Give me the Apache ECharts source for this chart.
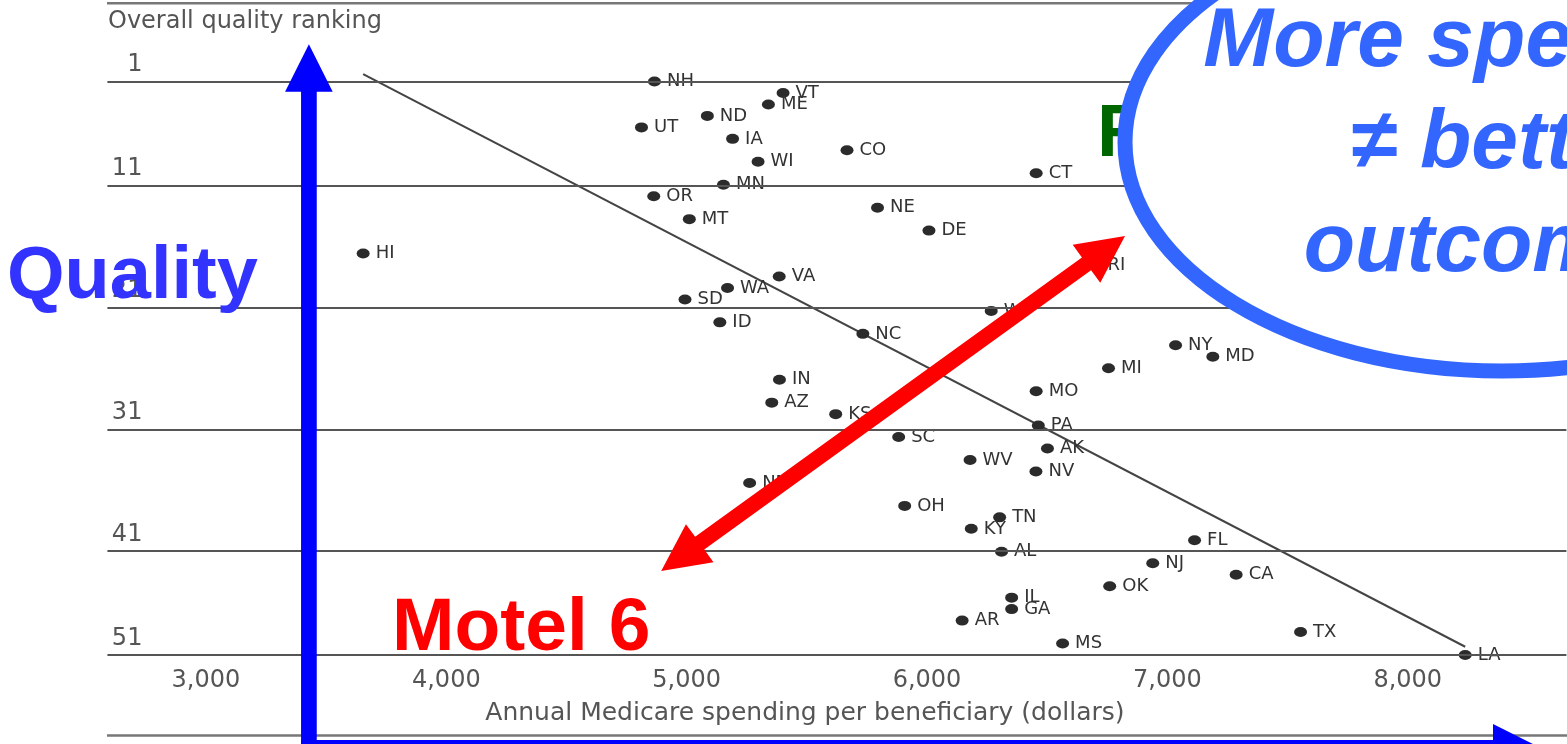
<!DOCTYPE html>
<html>
<head>
<meta charset="utf-8">
<script src="https://cdn.jsdelivr.net/npm/echarts@6/dist/echarts.min.js"></script>
<style>
html,body{margin:0;padding:0;background:#fff;}
#chart{width:1567px;height:744px;}
</style>
</head>
<body>
<div id="chart"></div>
<script>
// ---- data ----
const states = ['NH','VT','ME','ND','UT','IA','CO','WI','CT','MN','OR','NE','MT','DE','HI','RI','VA','WA','SD','WY','ID','NC','NY','MD','MI','IN','MO','AZ','KS','PA','SC','AK','WV','NV','NM','OH','TN','KY','FL','AL','NJ','CA','OK','IL','GA','AR','TX','MS','LA'];
const spending = [4866,5401,5340,5086,4812,5191,5667,5297,6454,5153,4863,5794,5011,6008,3654,6699,5385,5170,4993,6267,5138,5733,7034,7189,6755,5386,6454,5354,5620,6463,5882,6501,6179,6453,5262,5907,6302,6184,7113,6310,6939,7286,6760,6352,6352,6146,7554,6564,8239];
const ranks = [1,2,3,4,5,6,7,8,9,10,11,12,13,14,16,17,18,19,20,21,22,23,24,25,26,27,28,29,30,31,32,33,34,35,36,38,39,40,41,42,43,44,45,46,47,48,49,50,51];
const trendSpending = [3654, 8239];
const trendRank = [0.35, 50.28];
const xTickValues = [3000, 4000, 5000, 6000, 7000, 8000];
const yTickLabels = ['1', '11', '21', '31', '41', '51'];
const yGridRanks = [1, 10.08, 20.69, 31.32, 41.93, 51];
const yTitle = 'Overall quality ranking';
const xTitle = 'Annual Medicare spending per beneficiary (dollars)';

// ---- helpers for annotation arrows (pixel annotations, not data) ----
function arrowPoly(tail, tip, shaftW, headL, headW, both) {
  const dx = tip[0] - tail[0], dy = tip[1] - tail[1];
  const len = Math.sqrt(dx * dx + dy * dy);
  const u = [dx / len, dy / len], n = [-u[1], u[0]];
  const w = shaftW / 2, h = headW / 2;
  const pt = (b, s) => [b[0] + n[0] * s, b[1] + n[1] * s];
  const tipBase = [tip[0] - u[0] * headL, tip[1] - u[1] * headL];
  const tailBase = both ? [tail[0] + u[0] * headL, tail[1] + u[1] * headL] : tail;
  const pts = [];
  if (both) pts.push(tail, pt(tailBase, h));
  pts.push(pt(tailBase, w), pt(tipBase, w), pt(tipBase, h), tip, pt(tipBase, -h), pt(tipBase, -w), pt(tailBase, -w));
  if (both) pts.push(pt(tailBase, -h));
  return pts;
}

const chart = echarts.init(document.getElementById('chart'), null, {renderer: 'canvas'});
const FONT = 'DejaVu Sans';

const option = {
  animation: false,
  backgroundColor: '#ffffff',
  title: {
    text: yTitle, left: 108, top: 10, padding: 0,
    textStyle: {fontFamily: FONT, fontSize: 24, fontWeight: 'normal', color: '#555'}
  },
  grid: {left: 107.4, right: 0, top: 81.5, bottom: 89, containLabel: false},
  xAxis: {
    type: 'value', min: 2590, max: 8660, interval: 10,
    axisLine: {show: false}, axisTick: {show: false}, splitLine: {show: false},
    axisLabel: {
      margin: 14, fontFamily: FONT, fontSize: 24, color: '#555',
      showMinLabel: false, showMaxLabel: false,
      formatter: v => xTickValues.includes(Math.round(v)) ? Math.round(v).toLocaleString('en-US') : ''
    },
    name: xTitle, nameLocation: 'middle', nameGap: 46,
    nameTextStyle: {fontFamily: FONT, fontSize: 25, color: '#555', padding: [0, 64, 0, 0]}
  },
  yAxis: {
    type: 'value', min: 1, max: 51, inverse: true,
    axisLine: {show: false}, axisTick: {show: false}, axisLabel: {show: false}, splitLine: {show: false}
  },
  series: [
    {
      type: 'line', z: 2, clip: false, silent: true,
      data: trendSpending.map((x, i) => [x, trendRank[i]]),
      symbol: 'none', lineStyle: {color: '#444', width: 2}
    },
    {
      type: 'scatter', z: 3, clip: false, silent: true,
      data: states.map((s, i) => ({name: s, value: [spending[i], ranks[i]]})),
      symbol: 'circle', symbolSize: [13, 10],
      itemStyle: {color: '#2b2b2b', opacity: 1},
      label: {show: true, position: 'right', distance: 6, formatter: '{b}', fontFamily: FONT, fontSize: 18, color: '#333'},
      markLine: {
        silent: true, symbol: 'none', animation: false,
        lineStyle: {color: '#555', width: 2, type: 'solid'},
        label: {
          show: true, position: 'insideStartTop', formatter: '{b}',
          align: 'right', verticalAlign: 'middle', distance: [35, 16.5],
          fontFamily: FONT, fontSize: 24, color: '#555'
        },
        data: yGridRanks.map((r, i) => ({yAxis: r, name: yTickLabels[i]}))
      }
    }
  ],
  graphic: {
    elements: [
      {type: 'line', z: 50, shape: {x1: 107, y1: 3.3, x2: 1567, y2: 3.3}, style: {stroke: '#777', lineWidth: 2.5}},
      {type: 'line', z: 50, shape: {x1: 107, y1: 735.5, x2: 1567, y2: 735.5}, style: {stroke: '#777', lineWidth: 2.5}},
      {type: 'polygon', z: 100, shape: {points: arrowPoly([661.2, 571], [1125, 236], 15.6, 47.5, 47, true)}, style: {fill: '#ff0000'}},
      {type: 'text', z: 100, x: 7, y: 278,
        style: {text: 'Quality', fill: '#3333ff', font: 'bold 74px "Liberation Sans"', align: 'left', textAlign: 'left', verticalAlign: 'middle', textVerticalAlign: 'middle'}},
      {type: 'text', z: 100, x: 392, y: 629,
        style: {text: 'Motel 6', fill: '#ff0000', font: 'bold 75px "Liberation Sans"', align: 'left', textAlign: 'left', verticalAlign: 'middle', textVerticalAlign: 'middle'}},
      {type: 'text', z: 100, x: 1097, y: 135.7,
        style: {text: 'Ritz', fill: '#006600', font: 'bold 75px "Liberation Sans"', align: 'left', textAlign: 'left', verticalAlign: 'middle', textVerticalAlign: 'middle'}},
      {type: 'ellipse', z: 101, shape: {cx: 1502, cy: 142, rx: 377, ry: 229}, style: {fill: '#ffffff', stroke: '#3366ff', lineWidth: 15}},
      {type: 'text', z: 102, x: 1502, y: 145,
        style: {text: 'More spending\n≠ better\noutcomes', fill: '#3366ff', font: 'italic bold 84px "Liberation Sans"', lineHeight: 102.5,
          align: 'center', textAlign: 'center', verticalAlign: 'middle', textVerticalAlign: 'middle'}},
      {type: 'polygon', z: 103, shape: {points: arrowPoly([308.9, 760], [308.9, 44.3], 15.7, 47.4, 47.6, false)}, style: {fill: '#0000ff'}},
      {type: 'polygon', z: 103, shape: {points: arrowPoly([301, 747.8], [1540.5, 747.8], 15.7, 47.5, 47.6, false)}, style: {fill: '#0000ff'}}
    ]
  }
};
chart.setOption(option);
</script>
</body>
</html>
